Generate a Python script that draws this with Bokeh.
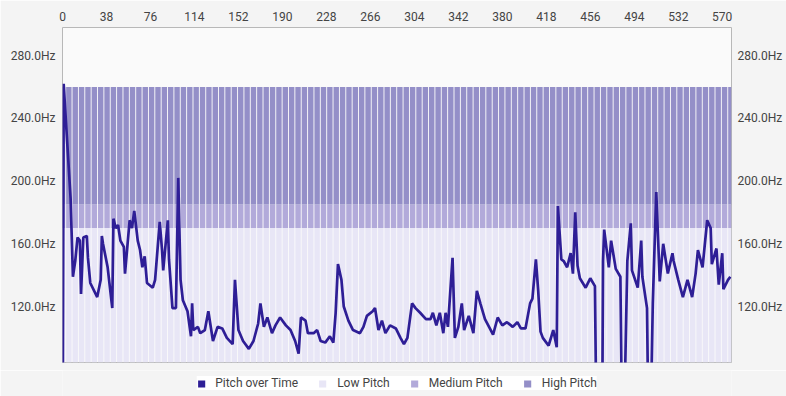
from bokeh.plotting import figure
from bokeh.models import (Range1d, FixedTicker, PrintfTickFormatter, LinearAxis,
                          Legend, LegendItem, ColumnDataSource)
from bokeh.layouts import column
from bokeh.embed import file_html
from bokeh.resources import INLINE
import numpy as np

# ---- data ----
time = [0, 1, 7, 9, 11, 13, 15, 16, 18, 21, 22, 24, 30, 33, 34, 35, 39, 43, 44, 46,
        48, 50, 53, 54, 58, 60, 62, 65, 67, 69, 71, 73, 78, 80, 84, 86, 87, 91, 92, 95,
        98, 100, 102, 104, 108, 111, 112, 113, 117, 119, 123, 126, 130, 134, 138, 142, 147, 149, 152, 156,
        161, 165, 169, 171, 174, 177, 181, 184, 188, 193, 197, 201, 204, 206, 210, 212, 217, 220, 223, 227,
        231, 234, 236, 238, 241, 243, 247, 251, 257, 260, 263, 268, 270, 273, 276, 279, 283, 288, 292, 295,
        298, 302, 305, 309, 314, 318, 320, 323, 326, 329, 331, 333, 337, 339, 342, 345, 347, 351, 355, 358,
        361, 365, 370, 372, 376, 380, 384, 389, 393, 396, 400, 404, 406, 409, 411, 413, 415, 420, 424, 427,
        428, 431, 433, 436, 439, 441, 443, 445, 447, 452, 456, 460, 462, 466, 467, 468, 472, 474, 478, 482,
        484, 488, 491, 492, 497, 500, 501, 505, 507, 510, 513, 516, 519, 523, 527, 528, 532, 536, 540, 544,
        547, 549, 553, 557, 560, 561, 565, 567, 570, 571, 575, 577]
pitch = [0, 262, 189, 139, 149, 164, 162, 128, 164, 165, 151, 135, 126, 137, 165, 160, 145, 119, 176, 170,
         172, 162, 158, 141, 175, 170, 181, 162, 156, 145, 152, 135, 132, 137, 174, 156, 143, 175, 150, 119,
         119, 202, 137, 124, 117, 101, 122, 105, 107, 103, 105, 117, 98, 107, 106, 100, 96, 137, 105, 98,
         93, 98, 109, 122, 107, 113, 103, 108, 113, 108, 105, 98, 90, 113, 111, 103, 103, 105, 98, 97,
         101, 97, 116, 147, 137, 120, 111, 105, 103, 107, 114, 117, 119, 105, 111, 103, 108, 106, 100, 96,
         100, 122, 119, 116, 112, 112, 116, 108, 116, 103, 116, 107, 151, 100, 107, 122, 105, 114, 103, 130,
         122, 112, 105, 102, 113, 108, 110, 107, 110, 106, 106, 122, 125, 150, 130, 104, 100, 95, 105, 94,
         184, 150, 149, 145, 154, 141, 180, 146, 138, 132, 138, 133, 0, 0, 149, 169, 145, 162, 144, 139,
         0, 149, 173, 143, 132, 162, 139, 119, 0, 122, 193, 136, 160, 141, 154, 149, 137, 126, 137, 126,
         141, 156, 145, 175, 170, 147, 157, 134, 154, 131, 137, 139]

bar_time = np.arange(0, 580, 5.5)
low_top = 170      # Low Pitch band top (Hz)
medium_band = 15   # Medium Pitch band height (Hz)
high_band = 75     # High Pitch band height (Hz)

x_ticks = [0, 38, 76, 114, 152, 190, 228, 266, 304, 342, 380, 418, 456, 494, 532, 570]
y_ticks = [120, 160, 200, 240, 280]
series_names = ["Pitch over Time", "Low Pitch", "Medium Pitch", "High Pitch"]

bars = ColumnDataSource(dict(
    t=bar_time,
    low=[low_top] * len(bar_time),
    medium=[medium_band] * len(bar_time),
    high=[high_band] * len(bar_time),
))

LINE = "#2e1e96"
LOW = "#e8e6f6"
MED = "#b2aada"
HIGH = "#948fc8"
FONT = "Roboto"
TXT = "#444444"
BG = "#f4f4f4"

# ---- main chart ----
p = figure(width=786, height=370, output_backend="svg", toolbar_location=None,
           x_range=Range1d(0, 578), y_range=Range1d(84.3, 297.9),
           x_axis_location="above",
           min_border_left=62, min_border_right=55, min_border_top=27, min_border_bottom=8)
p.border_fill_color = BG
p.background_fill_color = "#fafafa"
p.outline_line_color = "#b8b8b8"
p.grid.visible = False

p.vbar_stack(["low", "medium", "high"], x="t", width=4.7, source=bars,
             color=[LOW, MED, HIGH], line_color=None)
p.line(time, pitch, line_width=2.7, color=LINE)

p.xaxis.ticker = FixedTicker(ticks=x_ticks)
p.yaxis.ticker = FixedTicker(ticks=y_ticks)
p.yaxis.formatter = PrintfTickFormatter(format="%.1fHz")

right = LinearAxis(ticker=FixedTicker(ticks=y_ticks),
                   formatter=PrintfTickFormatter(format="%.1fHz"))
p.add_layout(right, "right")

for ax in [p.xaxis[0], p.yaxis[0], right]:
    ax.axis_line_color = None
    ax.major_tick_line_color = None
    ax.minor_tick_line_color = None
    ax.major_tick_out = 0
    ax.major_tick_in = 0
    ax.minor_tick_out = 0
    ax.minor_tick_in = 0
    ax.axis_label_standoff = 0
    ax.major_label_text_font = FONT
    ax.major_label_text_font_size = "12px"
    ax.major_label_text_color = TXT
p.xaxis[0].major_label_standoff = 7
p.yaxis[0].major_label_standoff = 7
right.major_label_standoff = 6

# ---- legend strip ----
p2 = figure(width=786, height=26, output_backend="svg", toolbar_location=None,
            x_range=Range1d(0, 578), y_range=Range1d(1000, 1001),
            x_axis_location=None, y_axis_location=None, min_border=0)
p2.border_fill_color = BG
p2.background_fill_color = BG
p2.outline_line_color = None
p2.grid.visible = False
sw_line = p2.vbar(x=time, top=pitch, bottom=pitch, width=0, fill_color=LINE, line_color=None)
sw_bars = p2.vbar_stack(["low", "medium", "high"], x="t", width=4.7, source=bars,
                        color=[LOW, MED, HIGH], line_color=None)

legend = Legend(items=[
    LegendItem(label=series_names[0], renderers=[sw_line]),
    LegendItem(label=series_names[1], renderers=[sw_bars[0]]),
    LegendItem(label=series_names[2], renderers=[sw_bars[1]]),
    LegendItem(label=series_names[3], renderers=[sw_bars[2]]),
], orientation="horizontal", location="center")
legend.background_fill_color = "white"
legend.background_fill_alpha = 1
legend.border_line_color = None
legend.label_text_font = FONT
legend.label_text_font_size = "12px"
legend.label_text_color = TXT
legend.glyph_width = 9
legend.glyph_height = 9
legend.label_standoff = 10
legend.label_height = 14
legend.spacing = 20
legend.padding = 3
legend.margin = 0
p2.add_layout(legend, "center")

layout = column(p, p2, spacing=0)
open("out.html", "w").write(file_html(layout, INLINE))
